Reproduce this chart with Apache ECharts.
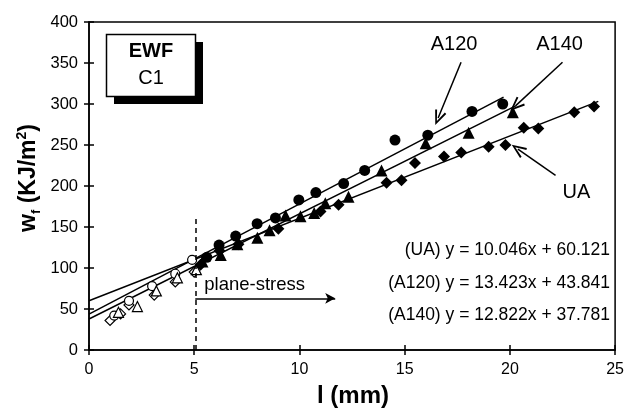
<!DOCTYPE html>
<html>
<head>
<meta charset="utf-8">
<script src="https://cdn.jsdelivr.net/npm/echarts@6/dist/echarts.min.js"></script>
<style>
html, body { margin: 0; padding: 0; background: #fff; }
#chart { width: 627px; height: 410px; }
</style>
</head>
<body>
<div id="chart"></div>
<script>
// 数据点 [l (mm), wf (KJ/m2)]，空心 = l < 5mm
const uaOpen = [[1.0, 36], [1.5, 44], [1.9, 55], [3.1, 67], [4.1, 83], [5.0, 95]]
const a120Open = [[1.2, 42], [1.9, 60], [3.0, 78], [4.1, 93], [4.9, 110]]
const a140Open = [[1.4, 46], [2.3, 53], [3.2, 72], [4.2, 88], [5.1, 98]]

const uaPts = [[5.3, 104], [6.2, 121], [7.1, 129], [9.0, 148], [11.0, 169], [11.86, 177], [14.14, 204], [14.85, 207],
  [15.49, 228], [16.87, 236], [17.69, 241], [18.99, 248], [19.79, 250], [20.66, 271], [21.35, 270], [23.06, 290], [24.0, 297]]
const a120Pts = [[5.6, 113], [6.18, 128], [6.97, 139], [7.99, 154], [8.86, 161], [9.97, 183], [10.78, 192],
  [12.1, 203], [13.1, 219], [14.54, 256], [16.1, 262], [18.2, 291], [19.66, 300]]
const a140Pts = [[5.39, 108], [6.26, 116], [7.05, 129], [8.0, 137], [8.58, 146], [9.34, 164], [10.05, 163],
  [10.7, 167], [11.23, 179], [12.33, 187], [13.9, 219], [16.0, 252], [18.04, 265], [20.14, 290]]

// 拟合直线端点
const uaFit = [[0, 60.1], [24.2, 303.2]]
const a120Fit = [[0, 43.8], [19.7, 308.3]]
const a140Fit = [[0, 37.8], [20.3, 298.1]]

const xTicks = [0, 5, 10, 15, 20, 25]
const yTicks = [0, 50, 100, 150, 200, 250, 300, 350, 400]
const equations = ['(UA) y = 10.046x + 60.121', '(A120) y = 13.423x + 43.841', '(A140) y = 12.822x + 37.781']

const font = 'Liberation Sans, Arial, Helvetica, sans-serif'
const black = '#000'
// 空心箭头
const vArrow = 'path://M0,20 L10,0 L20,20 L17,21 L10,6 L3,21 Z'

function dots(data, symbol, size, filled) {
  return {
    type: 'scatter',
    data: data,
    symbol: symbol,
    symbolSize: size,
    itemStyle: { color: filled ? black : '#fff', borderColor: black, borderWidth: filled ? 0 : 1.2, opacity: 1 },
    z: 4
  }
}

function fitLine(data, markLine) {
  const s = {
    type: 'line',
    data: data,
    symbol: 'none',
    lineStyle: { color: black, width: 1.5 },
    z: 3
  }
  if (markLine) s.markLine = markLine
  return s
}

function arrow(from, to) {
  return [{ coord: from, symbol: 'none' }, { coord: to, symbol: vArrow, symbolSize: [12, 15] }]
}

const chart = echarts.init(document.getElementById('chart'))

const axisCommon = {
  min: 0,
  axisLine: { show: true, onZero: false, lineStyle: { color: black, width: 1.5 } },
  splitLine: { show: false }
}

var option = {
  animation: false,
  textStyle: { fontFamily: font },
  grid: { left: 89, right: 9, top: 22, bottom: 60, show: true, borderColor: black, borderWidth: 1.5 },
  xAxis: [
    Object.assign({}, axisCommon, {
      type: 'value', max: 25, interval: 5,
      axisTick: { show: true, length: 5, lineStyle: { color: black, width: 1.5 } },
      axisLabel: { color: black, fontSize: 16, margin: 12, fontFamily: font,
        formatter: v => (xTicks.indexOf(v) >= 0 ? String(v) : '') }
    }),
    Object.assign({}, axisCommon, {
      type: 'value', max: 25, interval: 5, position: 'bottom',
      axisLine: { show: false },
      axisTick: { show: true, inside: true, length: 5, lineStyle: { color: black, width: 1.5 } },
      axisLabel: { show: false }
    })
  ],
  yAxis: [
    Object.assign({}, axisCommon, {
      type: 'value', max: 400, interval: 50,
      axisTick: { show: true, length: 5, lineStyle: { color: black, width: 1.5 } },
      axisLabel: { color: black, fontSize: 16.5, margin: 11, fontFamily: font,
        formatter: v => (yTicks.indexOf(v) >= 0 ? String(v) : '') }
    }),
    Object.assign({}, axisCommon, {
      type: 'value', max: 400, interval: 50, position: 'left',
      axisLine: { show: false },
      axisTick: { show: true, inside: true, length: 5, lineStyle: { color: black, width: 1.5 } },
      axisLabel: { show: false }
    })
  ],
  series: [
    fitLine(uaFit, {
      silent: true,
      symbol: 'none',
      lineStyle: { color: black, width: 1.5, type: 'solid' },
      label: { show: false },
      data: [
        // l = 5mm 虚线
        [{ coord: [5.05, 0], lineStyle: { type: [5, 4], width: 1.5 } }, { coord: [5.05, 160] }],
        // plane-stress 箭头
        [{ coord: [5.05, 63], symbol: 'none',
          label: { show: true, position: 'insideStartTop', formatter: 'plane-stress', color: black,
            fontSize: 18.5, fontFamily: font, distance: [9, 4] } },
        { coord: [11.7, 63], symbol: 'arrow', symbolSize: [8, 10] }],
        arrow([17.68, 351], [16.59, 283]),
        arrow([22.5, 351], [20.28, 298]),
        arrow([22.17, 213], [20.38, 245])
      ]
    }),
    fitLine(a120Fit),
    fitLine(a140Fit),
    dots(uaOpen, 'diamond', 10, false),
    dots(a120Open, 'circle', 9, false),
    dots(a140Open, 'triangle', 10, false),
    dots(uaPts, 'diamond', 12, true),
    dots(a120Pts, 'circle', 11, true),
    dots(a140Pts, 'triangle', 12, true),
    {
      type: 'scatter',
      data: [],
      markPoint: {
        symbol: 'circle',
        symbolSize: 0,
        label: { show: true, position: 'inside', color: black, fontSize: 20, fontFamily: font },
        data: [
          { coord: [17.35, 372], label: { formatter: 'A120' } },
          { coord: [22.36, 372], label: { formatter: 'A140' } },
          { coord: [23.16, 192], label: { formatter: 'UA' } }
        ]
      }
    }
  ],
  graphic: [
    // EWF C1 方框及阴影
    { type: 'rect', shape: { x: 114, y: 42, width: 89, height: 62 }, style: { fill: black }, z: 10 },
    { type: 'rect', shape: { x: 106.5, y: 34.5, width: 89, height: 62 }, style: { fill: '#fff', stroke: black, lineWidth: 1.5 }, z: 11 },
    { type: 'text', x: 151, y: 51, z: 12,
      style: { text: 'EWF', font: 'bold 20px ' + font, fill: black, align: 'center', verticalAlign: 'middle' } },
    { type: 'text', x: 151, y: 78, z: 12,
      style: { text: 'C1', font: '20px ' + font, fill: black, align: 'center', verticalAlign: 'middle' } },
    // 拟合方程
    { type: 'text', x: 610, y: 250, z: 12,
      style: { text: equations[0], font: '17.5px ' + font, fill: black, align: 'right', verticalAlign: 'middle' } },
    { type: 'text', x: 610, y: 283, z: 12,
      style: { text: equations[1], font: '17.5px ' + font, fill: black, align: 'right', verticalAlign: 'middle' } },
    { type: 'text', x: 610, y: 315, z: 12,
      style: { text: equations[2], font: '17.5px ' + font, fill: black, align: 'right', verticalAlign: 'middle' } },
    // 坐标轴标题
    { type: 'text', x: 353, y: 396, z: 12,
      style: { text: 'l (mm)', font: 'bold 24px ' + font, fill: black, align: 'center', verticalAlign: 'middle' } },
    { type: 'text', x: 29, y: 178, rotation: Math.PI / 2, z: 12,
      style: {
        text: '{b|w}{s|f}{b| (KJ/m}{p|2}{b|)}',
        align: 'center', verticalAlign: 'middle',
        rich: {
          b: { fontFamily: font, fontWeight: 'bold', fontSize: 23, lineHeight: 28, fill: black, color: black },
          s: { fontFamily: font, fontWeight: 'bold', fontSize: 13, lineHeight: 28, verticalAlign: 'bottom', fill: black, color: black },
          p: { fontFamily: font, fontWeight: 'bold', fontSize: 14, lineHeight: 28, verticalAlign: 'top', fill: black, color: black }
        }
      } }
  ]
}

chart.setOption(option)
window.addEventListener('resize', () => {
  chart.resize()
})
</script>
</body>
</html>
